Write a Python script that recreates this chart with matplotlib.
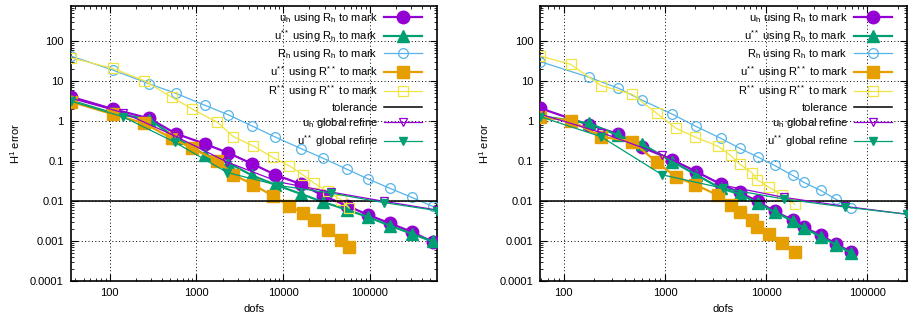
import matplotlib
matplotlib.use("Agg")
import matplotlib.pyplot as plt
from matplotlib.ticker import FixedLocator, FuncFormatter, LogLocator, NullFormatter

plt.rcParams['font.family'] = ['Liberation Sans', 'DejaVu Sans']
plt.rcParams['mathtext.default'] = 'regular'
plt.rcParams['font.size'] = 8

# ---------------- data: left panel ----------------
L_x_Rh = [35.5, 108, 287, 578, 1259, 2340, 4385, 8160, 16000, 29200, 54300, 94900, 168700, 305000, 528000]
L_uh_Rh = [4.1, 2.03, 1.17, 0.49, 0.27, 0.16, 0.086, 0.0455, 0.0266, 0.0135, 0.0077, 0.00455, 0.0028, 0.0017, 0.00096]
L_us_Rh = [3.3, 1.6, 1.1, 0.39, 0.145, 0.09, 0.044, 0.0256, 0.0152, 0.0094, 0.0061, 0.004, 0.00245, 0.00152, 0.00098]
L_Rh_Rh = [43, 19.2, 8.6, 5.0, 2.5, 1.44, 0.76, 0.4, 0.207, 0.117, 0.063, 0.036, 0.0211, 0.0124, 0.0074]
L_x_Rs = [35.5, 108, 249, 519, 899, 1746, 2670, 4550, 7590, 11830, 16860, 22400, 32500, 46300, 57800]
L_us_Rs = [3.1, 1.5, 0.89, 0.376, 0.21, 0.102, 0.0457, 0.0257, 0.0135, 0.0076, 0.005, 0.0034, 0.00184, 0.00107, 0.00073]
L_Rs_Rs = [39, 21, 10.4, 4.0, 2.0, 0.94, 0.41, 0.24, 0.124, 0.076, 0.0455, 0.029, 0.0175, 0.0108, 0.0067]
L_x_glob = [35.5, 141, 562, 2260, 9000, 36100, 144000, 590000]
L_uh_glob = [3.76, 1.65, 0.43, 0.095, 0.03, 0.0168, 0.0099, 0.006]
L_us_glob = [3.2, 1.3, 0.3, 0.052, 0.0245, 0.0158, 0.0092, 0.0058]

# ---------------- data: right panel ----------------
R_x_Rh = [58.7, 178, 347, 590, 1183, 2027, 3550, 5470, 8310, 12140, 18300, 23700, 34600, 48700, 69500]
R_uh_Rh = [2.11, 0.81, 0.48, 0.224, 0.108, 0.055, 0.0266, 0.0165, 0.0098, 0.0055, 0.0034, 0.0022, 0.00141, 0.00086, 0.00053]
R_us_Rh = [1.35, 0.89, 0.44, 0.27, 0.098, 0.046, 0.021, 0.015, 0.0089, 0.0053, 0.0032, 0.0021, 0.0013, 0.00081, 0.0005]
R_Rh_Rh = [31, 12.6, 6.7, 3.4, 1.5, 0.74, 0.376, 0.211, 0.126, 0.078, 0.0439, 0.0293, 0.0185, 0.0112, 0.0067]
R_x_Rs = [58.7, 117, 234, 477, 830, 1279, 2000, 3375, 4470, 5480, 7200, 8200, 10700, 14500, 19200]
R_us_Rs = [1.26, 1.04, 0.41, 0.31, 0.094, 0.041, 0.0256, 0.0139, 0.0081, 0.0053, 0.0033, 0.0022, 0.0015, 0.00089, 0.00053]
R_Rs_Rs = [43, 26.6, 7.8, 4.7, 1.58, 0.67, 0.4, 0.233, 0.139, 0.084, 0.052, 0.034, 0.022, 0.0144, 0.0084]
R_x_glob = [58.7, 234, 940, 3760, 15000, 60000, 245000]
R_uh_glob = [1.5, 0.52, 0.144, 0.025, 0.0124, 0.0074, 0.0047]
R_us_glob = [1.3, 0.41, 0.0455, 0.021, 0.0113, 0.0071, 0.0047]

tolerance = 0.01
y_ticks = [1e-4, 1e-3, 1e-2, 1e-1, 1, 10, 100]
x_ticks = [100, 1000, 10000, 100000]
y_top = 780

labels = ['u$_h$ using R$_h$ to mark',
          'u$^{**}$ using R$_h$ to mark',
          'R$_h$ using R$_h$ to mark',
          'u$^{**}$ using R$^{**}$ to mark',
          'R$^{**}$ using R$^{**}$ to mark',
          'tolerance',
          'u$_h$ global refine',
          'u$^{**}$ global refine']

PURPLE = '#9400D3'
GREEN = '#009E73'
BLUE = '#56B4E9'
ORANGE = '#E69F00'
YELLOW = '#F0E442'

fig = plt.figure(figsize=(9.08, 3.21), dpi=100)
axL = fig.add_axes([70.7/908, 1-281/321, (436.7-70.7)/908, (281-5.7)/321])
axR = fig.add_axes([540.3/908, 1-281/321, (906.7-540.3)/908, (281-5.7)/321])


def draw(ax, xRh, uh, us, rh, xRs, usrs, rsrs, xg, uhg, usg):
    ax.set_xscale('log')
    ax.set_yscale('log')
    ax.plot(xRh, uh, color=PURPLE, lw=1.6, marker='o', ms=9, label=labels[0], zorder=3)
    ax.plot(xRh, us, color=GREEN, lw=1.6, marker='^', ms=8, label=labels[1], zorder=3)
    ax.plot(xRh, rh, color=BLUE, lw=0.9, marker='o', ms=7, mfc='none', mew=0.9, label=labels[2], zorder=3)
    ax.plot(xRs, usrs, color=ORANGE, lw=1.6, marker='s', ms=9, label=labels[3], zorder=3)
    ax.plot(xRs, rsrs, color=YELLOW, lw=0.9, marker='s', ms=7, mfc='none', mew=0.9, label=labels[4], zorder=3)
    ax.axhline(tolerance, color='black', lw=1.1, label=labels[5], zorder=3)
    ax.plot(xg, uhg, color=PURPLE, lw=0.9, marker='v', ms=6, mfc='none', mew=0.9, label=labels[6], zorder=3)
    ax.plot(xg, usg, color=GREEN, lw=0.9, marker='v', ms=6, label=labels[7], zorder=3)
    xs = xRh + xRs + xg
    ax.set_xlim(min(xs), max(xs))
    ax.set_ylim(y_ticks[0], y_top)
    ax.xaxis.set_major_locator(FixedLocator(x_ticks))
    ax.yaxis.set_major_locator(FixedLocator(y_ticks))
    ax.xaxis.set_minor_locator(LogLocator(base=10, subs=range(2, 10), numticks=30))
    ax.yaxis.set_minor_locator(LogLocator(base=10, subs=range(2, 10), numticks=30))
    fmt = FuncFormatter(lambda v, _: f'{v:g}')
    ax.xaxis.set_major_formatter(fmt)
    ax.yaxis.set_major_formatter(fmt)
    ax.xaxis.set_minor_formatter(NullFormatter())
    ax.yaxis.set_minor_formatter(NullFormatter())
    ax.tick_params(which='both', direction='in', top=True, right=True, labelsize=8)
    ax.tick_params(which='major', length=5, width=0.8, pad=5)
    ax.tick_params(which='minor', length=2.5, width=0.6)
    ax.grid(True, which='major', color='black', lw=0.7, linestyle=(0, (1, 2.5)), zorder=1)
    for s in ax.spines.values():
        s.set_linewidth(1.2)
    ax.set_xlabel('dofs', fontsize=8, labelpad=4)
    ax.set_ylabel('H$^1$ error', fontsize=8, labelpad=6)
    ax.legend(loc='upper right', bbox_to_anchor=(1.0, 1.035), frameon=False,
              markerfirst=False, fontsize=8,
              handlelength=3.4, handletextpad=0.6, labelspacing=0.3,
              borderaxespad=0.9, numpoints=1)


draw(axL, L_x_Rh, L_uh_Rh, L_us_Rh, L_Rh_Rh, L_x_Rs, L_us_Rs, L_Rs_Rs, L_x_glob, L_uh_glob, L_us_glob)
draw(axR, R_x_Rh, R_uh_Rh, R_us_Rh, R_Rh_Rh, R_x_Rs, R_us_Rs, R_Rs_Rs, R_x_glob, R_uh_glob, R_us_glob)

fig.savefig('out.png', dpi=100)
